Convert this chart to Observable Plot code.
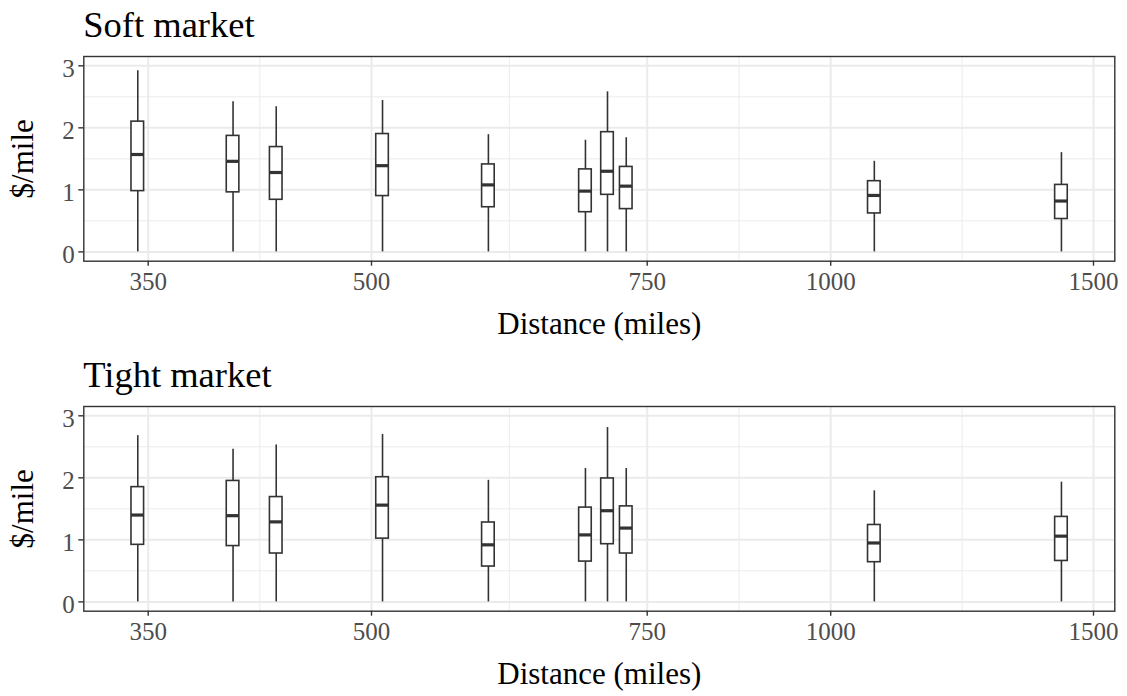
<!DOCTYPE html>
<html><head><meta charset="utf-8">
<script src="https://cdn.jsdelivr.net/npm/d3@7"></script>
<script src="https://cdn.jsdelivr.net/npm/@observablehq/plot@0.6"></script>
<style>
body{margin:0;background:#fff;}
.block{width:1127px;}
.title{height:50px;line-height:49px;padding-left:83.3px;font-family:"Liberation Serif";font-size:36.5px;color:#000;box-sizing:border-box;white-space:nowrap;}
</style></head><body><div id="chart"></div>
<script>
// Distances (miles) of each lane box
const distances = [343, 407, 436, 510, 606, 694, 714, 731, 1083, 1439];
const xTicks = [350, 500, 750, 1000, 1500];
const xMinor = [425, 625, 875, 1250];
const yTicks = [0, 1, 2, 3];
const yMinor = [0.5, 1.5, 2.5];
const panelTitles = ["Soft market", "Tight market"];

// Soft market box statistics ($/mile)
const softMin = [0, 0, 0, 0, 0, 0, 0, 0, 0, 0];
const softQ1  = [0.98, 0.96, 0.84, 0.90, 0.72, 0.64, 0.92, 0.69, 0.62, 0.53];
const softMed = [1.57, 1.46, 1.28, 1.39, 1.08, 0.98, 1.30, 1.06, 0.91, 0.82];
const softQ3  = [2.10, 1.87, 1.69, 1.90, 1.41, 1.33, 1.93, 1.37, 1.14, 1.08];
const softMax = [2.92, 2.42, 2.34, 2.44, 1.89, 1.80, 2.58, 1.84, 1.46, 1.60];

// Tight market box statistics ($/mile)
const tightMin = [0, 0, 0, 0, 0, 0, 0, 0, 0, 0];
const tightQ1  = [0.92, 0.90, 0.78, 1.02, 0.57, 0.65, 0.93, 0.78, 0.64, 0.66];
const tightMed = [1.40, 1.39, 1.29, 1.56, 0.92, 1.08, 1.47, 1.19, 0.95, 1.06];
const tightQ3  = [1.85, 1.95, 1.69, 2.01, 1.28, 1.52, 1.99, 1.54, 1.24, 1.37];
const tightMax = [2.68, 2.46, 2.53, 2.70, 1.96, 2.15, 2.81, 2.15, 1.79, 1.93];

const INK = "#333333", GRID = "#EBEBEB", TICKTXT = "#4D4D4D";
const HALF = 6.3;

function panel(title, lo, q1, med, q3, hi) {
  const data = distances.map((d, i) => ({d, lo: lo[i], q1: q1[i], med: med[i], q3: q3[i], hi: hi[i]}));
  const block = document.createElement("div");
  block.className = "block";
  const t = document.createElement("div");
  t.className = "title";
  t.textContent = title;
  block.appendChild(t);
  const plot = Plot.plot({
    width: 1127, height: 300,
    marginTop: 6, marginBottom: 89.3, marginLeft: 83.3, marginRight: 12.7,
    style: {fontFamily: "Liberation Serif", fontSize: "25px", background: "white", overflow: "visible"},
    x: {type: "linear", domain: xTicks, range: [147.7, 371, 646.7, 830.2, 1093]},
    y: {type: "linear", domain: [-0.15, 3.15]},
    marks: [
      Plot.ruleX(xMinor, {x: d => d, stroke: GRID, strokeWidth: 1}),
      Plot.ruleY(yMinor, {y: d => d, stroke: GRID, strokeWidth: 1}),
      Plot.ruleX(xTicks, {x: d => d, stroke: GRID, strokeWidth: 2}),
      Plot.ruleY(yTicks, {y: d => d, stroke: GRID, strokeWidth: 2}),
      Plot.ruleX(data, {x: "d", y1: "lo", y2: "hi", stroke: INK, strokeWidth: 1.6}),
      Plot.rect(data, {x1: "d", x2: "d", y1: "q1", y2: "q3", insetLeft: -HALF, insetRight: -HALF, fill: "white", stroke: INK, strokeWidth: 1.6}),
      Plot.ruleY(data, {y: "med", x1: "d", x2: "d", insetLeft: -HALF, insetRight: -HALF, stroke: INK, strokeWidth: 3.2}),
      Plot.frame({stroke: INK, strokeWidth: 1.4}),
      Plot.axisX(xTicks, {tickSize: 5, fill: "none", stroke: INK, strokeWidth: 1.4, label: null}),
      Plot.axisX(xTicks, {tickSize: 0, tickPadding: 11.5, fill: TICKTXT, fontSize: 25, label: null, tickFormat: d3.format("d")}),
      Plot.axisY(yTicks, {tickSize: 5, fill: "none", stroke: INK, strokeWidth: 1.4, label: null}),
      Plot.axisY(yTicks, {tickSize: 0, tickPadding: 9, fill: TICKTXT, fontSize: 25, dy: 3, label: null, tickFormat: d3.format("d")}),
      Plot.text(["Distance (miles)"], {text: d => d, frameAnchor: "bottom", dy: 62.4, fontSize: 31, fill: "black", textAnchor: "middle", lineAnchor: "middle"}),
      Plot.text(["$/mile"], {text: d => d, frameAnchor: "left", dx: -61, rotate: -90, fontSize: 31, fill: "black", textAnchor: "middle", lineAnchor: "middle"})
    ]
  });
  block.appendChild(plot);
  return block;
}

const root = document.getElementById("chart");
root.appendChild(panel(panelTitles[0], softMin, softQ1, softMed, softQ3, softMax));
root.appendChild(panel(panelTitles[1], tightMin, tightQ1, tightMed, tightQ3, tightMax));
</script></body></html>
